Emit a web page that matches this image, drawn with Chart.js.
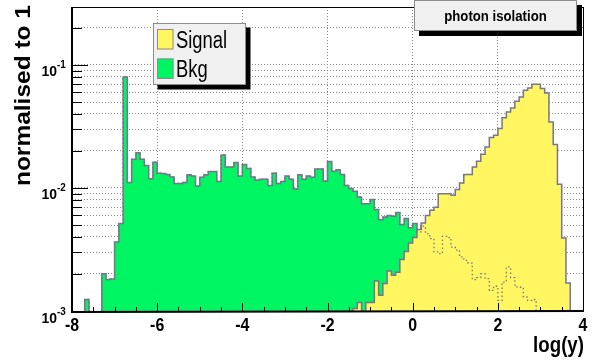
<!DOCTYPE html>
<html>
<head>
<meta charset="utf-8">
<title>photon isolation</title>
<script src="https://cdn.jsdelivr.net/npm/chart.js@4.4.0/dist/chart.umd.min.js"></script>
<style>
  html, body { margin: 0; padding: 0; background: #fff; }
  #wrap { width: 607px; height: 362px; }
</style>
</head>
<body>
<div id="wrap"><canvas id="c" width="607" height="362"></canvas></div>
<script>
// 120 bins of width 0.1 between -8 and 4
const xLow = -8, xHigh = 4, nBins = 120;
const binWidth = (xHigh - xLow) / nBins;

const signal = [
  0, 0, 0, 0, 0, 0, 0, 0, 0, 0,
  0, 0, 0, 0, 0, 0, 0, 0, 0, 0,
  0, 0, 0, 0, 0, 0, 0, 0, 0, 0,
  0, 0, 0, 0, 0, 0, 0, 0, 0, 0,
  0, 0, 0, 0, 0, 0, 0, 0, 0, 0,
  0, 0, 0, 0, 0, 0, 0, 0, 0, 0,
  0, 0, 0, 0, 0, 0, 0.00105, 0.00117, 0, 0.00117,
  0.00117, 0.00175, 0.00134, 0.00167, 0.00211, 0.00195, 0.00207, 0.00262, 0.00305, 0.00357,
  0.00395, 0.00459, 0.00519, 0.00597, 0.00659, 0.00697, 0.00899, 0.00899, 0.00899, 0.00873,
  0.00973, 0.0110, 0.0129, 0.0129, 0.0148, 0.0165, 0.0188, 0.0215, 0.0257, 0.0268,
  0.0304, 0.0373, 0.0415, 0.0447, 0.0507, 0.0550, 0.0622, 0.0650, 0.0697, 0.0697,
  0.0643, 0.0592, 0.0344, 0.0226, 0.0107, 0.00392, 0.00169, 0, 0, 0
];

const bkg = [
  0, 0, 0, 0.00124, 0, 0, 0, 0.00201, 0.00180, 0.00182,
  0.00364, 0.00514, 0.0800, 0.0111, 0.0171, 0.0193, 0.0171, 0.0152, 0.0119, 0.0162,
  0.0132, 0.0131, 0.0129, 0.0123, 0.0109, 0.0109, 0.0111, 0.0128, 0.0125, 0.0104,
  0.0122, 0.0128, 0.0136, 0.0136, 0.0113, 0.0185, 0.0148, 0.0148, 0.0161, 0.0125,
  0.0155, 0.0144, 0.0123, 0.0116, 0.0118, 0.0118, 0.0105, 0.0132, 0.0109, 0.0113,
  0.0125, 0.0118, 0.00982, 0.0128, 0.0118, 0.0125, 0.0122, 0.0143, 0.0143, 0.0114,
  0.0164, 0.0137, 0.0141, 0.0129, 0.0105, 0.00989, 0.00940, 0.00845, 0.00746, 0.00746,
  0.00805, 0.00667, 0.00553, 0.00581, 0.00597, 0.00589, 0.00631, 0.00504, 0.00564, 0.00476,
  0.00514, 0.00439, 0.00489, 0.00426, 0.00388, 0.00302, 0.00293, 0.00405, 0.00395, 0.00331,
  0.00313, 0.00275, 0.00258, 0.00245, 0.00180, 0.00187, 0.00201, 0.00183, 0.00147, 0.00159,
  0.00122, 0.00172, 0.00228, 0.00187, 0.00157, 0.00156, 0.00130, 0.00122, 0.00124, 0,
  0, 0, 0, 0, 0, 0, 0, 0, 0, 0
];

const xMajorTicks = [-8, -6, -4, -2, 0, 2, 4];
const xMinorStep = 0.5;
const yTicks = [
  0.001, 0.002, 0.003, 0.004, 0.005, 0.006, 0.007, 0.008, 0.009,
  0.01, 0.02, 0.03, 0.04, 0.05, 0.06, 0.07, 0.08, 0.09,
  0.1, 0.2
];
const yMin = 0.001, yMax = 0.296;

const chartTitle = 'photon isolation';
const xTitle = 'log(y)';
const yTitle = 'normalised to 1';

const signalColor = '#fff662';
const bkgColor = '#00f562';
const outlineColor = 'rgb(118,118,140)';
const FONT = '"Liberation Sans", Arial, Helvetica, sans-serif';

// empty bins go far below the axis so the step drops to the frame
const emptyBin = 1e-6;
const binEdges = Array.from({ length: nBins + 1 }, (_, i) => +(xLow + i * binWidth).toFixed(2));

// one point per upper bin edge, plus the first lower edge; with 'after'
// stepping the line rises at the low edge and holds across the bin
function toSteps(values) {
  const pts = [{ x: binEdges[0], y: emptyBin }];
  values.forEach((v, i) => pts.push({ x: binEdges[i + 1], y: v > 0 ? v : emptyBin }));
  return pts;
}

function isDecade(v) {
  const l = Math.log10(v);
  return Math.abs(l - Math.round(l)) < 1e-6;
}

// text squeezed horizontally like the ROOT canvas fonts
function text(ctx, str, x, y, font, align, sx) {
  ctx.save();
  ctx.font = font;
  ctx.textAlign = align;
  ctx.textBaseline = 'alphabetic';
  ctx.translate(x, y);
  ctx.scale(sx, 1);
  ctx.fillText(str, 0, 0);
  ctx.restore();
}

function shadowBox(ctx, x, y, w, h, off) {
  ctx.fillStyle = '#000';
  ctx.fillRect(x + off, y + off, w, h);
  ctx.fillStyle = '#f0f0f0';
  ctx.fillRect(x, y, w, h);
  ctx.strokeStyle = '#8c8c8c';
  ctx.lineWidth = 1;
  ctx.strokeRect(x + 0.5, y + 0.5, w - 1, h - 1);
}

const frameAndLabels = {
  id: 'frameAndLabels',
  afterDraw(chart) {
    const { ctx, chartArea: a, scales: { x, y } } = chart;
    ctx.save();

    // tick marks pointing into the frame
    ctx.strokeStyle = '#000';
    ctx.lineWidth = 1;
    ctx.beginPath();
    y.ticks.forEach(t => {
      const py = Math.round(y.getPixelForValue(t.value)) + 0.5;
      ctx.moveTo(a.left, py);
      ctx.lineTo(a.left + (isDecade(t.value) ? 16 : 10), py);
    });
    for (let v = x.min; v <= x.max + 1e-9; v += xMinorStep) {
      const px = Math.round(x.getPixelForValue(v)) + 0.5;
      const major = xMajorTicks.some(m => Math.abs(m - v) < 1e-9);
      ctx.moveTo(px, a.bottom);
      ctx.lineTo(px, a.bottom - (major ? 8 : 4));
    }
    ctx.stroke();

    // frame
    ctx.lineWidth = 1;
    ctx.strokeRect(Math.round(a.left) + 0.5, Math.round(a.top) + 0.5,
      Math.round(a.right - a.left), Math.round(a.bottom - a.top));
    ctx.lineWidth = 2;
    ctx.beginPath();
    ctx.moveTo(Math.round(a.left), a.top);
    ctx.lineTo(Math.round(a.left), a.bottom + 1);
    ctx.lineTo(a.right + 1, Math.round(a.bottom));
    ctx.stroke();

    // tick labels
    ctx.fillStyle = '#000';
    xMajorTicks.forEach(v => {
      text(ctx, String(v), x.getPixelForValue(v), a.bottom + 19.5, 'bold 18.5px ' + FONT, 'center', 0.86);
    });
    y.ticks.filter(t => isDecade(t.value)).forEach(t => {
      const py = y.getPixelForValue(t.value);
      const exp = Math.round(Math.log10(t.value));
      text(ctx, '10', a.left - 15, py + 11.5, 'bold 15.5px ' + FONT, 'right', 0.9);
      text(ctx, String(exp), a.left - 15, py + 3.5, 'bold 11px ' + FONT, 'left', 0.9);
    });

    // axis titles
    text(ctx, xTitle, a.right + 1, 352, 'bold 22px ' + FONT, 'right', 0.85);
    ctx.save();
    ctx.font = 'bold 24.5px ' + FONT;
    ctx.textAlign = 'right';
    ctx.translate(30, 5);
    ctx.scale(0.92, 1);
    ctx.rotate(-Math.PI / 2);
    ctx.fillText(yTitle, 0, 0);
    ctx.restore();

    // legend
    shadowBox(ctx, 153, 23, 93, 62, 4.5);
    const entries = chart.data.datasets.filter(d => d.inLegend);
    entries.forEach((d, i) => {
      const top = 29 + i * 29.5;
      ctx.fillStyle = d.backgroundColor;
      ctx.fillRect(157, top, 16.5, 20.5);
      ctx.strokeStyle = '#8c8c8c';
      ctx.lineWidth = 1;
      ctx.strokeRect(157.5, top + 0.5, 15.5, 19.5);
      ctx.fillStyle = '#000';
      text(ctx, d.label, 176, top + 18.5, '23px ' + FONT, 'left', 0.8);
    });

    // title box
    shadowBox(ctx, 414, 0, 163, 31, 5);
    ctx.fillStyle = '#000';
    text(ctx, chartTitle, 495.5, 20.5, 'bold 15.5px ' + FONT, 'center', 0.85);

    ctx.restore();
  }
};

const lineStyle = {
  stepped: 'after',
  pointRadius: 0,
  borderWidth: 1.5,
  borderColor: outlineColor,
  tension: 0
};

new Chart(document.getElementById('c'), {
  type: 'line',
  data: {
    datasets: [
      Object.assign({ label: 'Signal', inLegend: true, data: toSteps(signal),
        backgroundColor: signalColor, fill: 'start', order: 2 }, lineStyle),
      Object.assign({ label: 'Bkg', inLegend: true, data: toSteps(bkg),
        backgroundColor: bkgColor, fill: 'start', order: 3 }, lineStyle),
      // background outline again, dotted, over the signal
      Object.assign({}, lineStyle, { label: 'Bkg', inLegend: false, data: toSteps(bkg),
        fill: false, borderDash: [1.5, 2.5], borderWidth: 1.3, order: 1 })
    ]
  },
  options: {
    responsive: false,
    animation: false,
    events: [],
    layout: { padding: { left: 72, top: 7, right: 24, bottom: 51 } },
    plugins: {
      legend: { display: false },
      tooltip: { enabled: false },
      title: { display: false }
    },
    scales: {
      x: {
        type: 'linear',
        min: xLow,
        max: xHigh,
        afterBuildTicks: s => { s.ticks = xMajorTicks.map(v => ({ value: v })); },
        ticks: { display: false },
        grid: { drawTicks: false, color: '#8a8a8a', lineWidth: 1 },
        border: { display: false, dash: [1, 2] }
      },
      y: {
        type: 'logarithmic',
        min: yMin,
        max: yMax,
        afterBuildTicks: s => { s.ticks = yTicks.map(v => ({ value: v })); },
        ticks: { display: false },
        grid: { drawTicks: false, color: '#8a8a8a', lineWidth: 1 },
        border: { display: false, dash: [1, 2] }
      }
    }
  },
  plugins: [frameAndLabels]
});
</script>
</body>
</html>
